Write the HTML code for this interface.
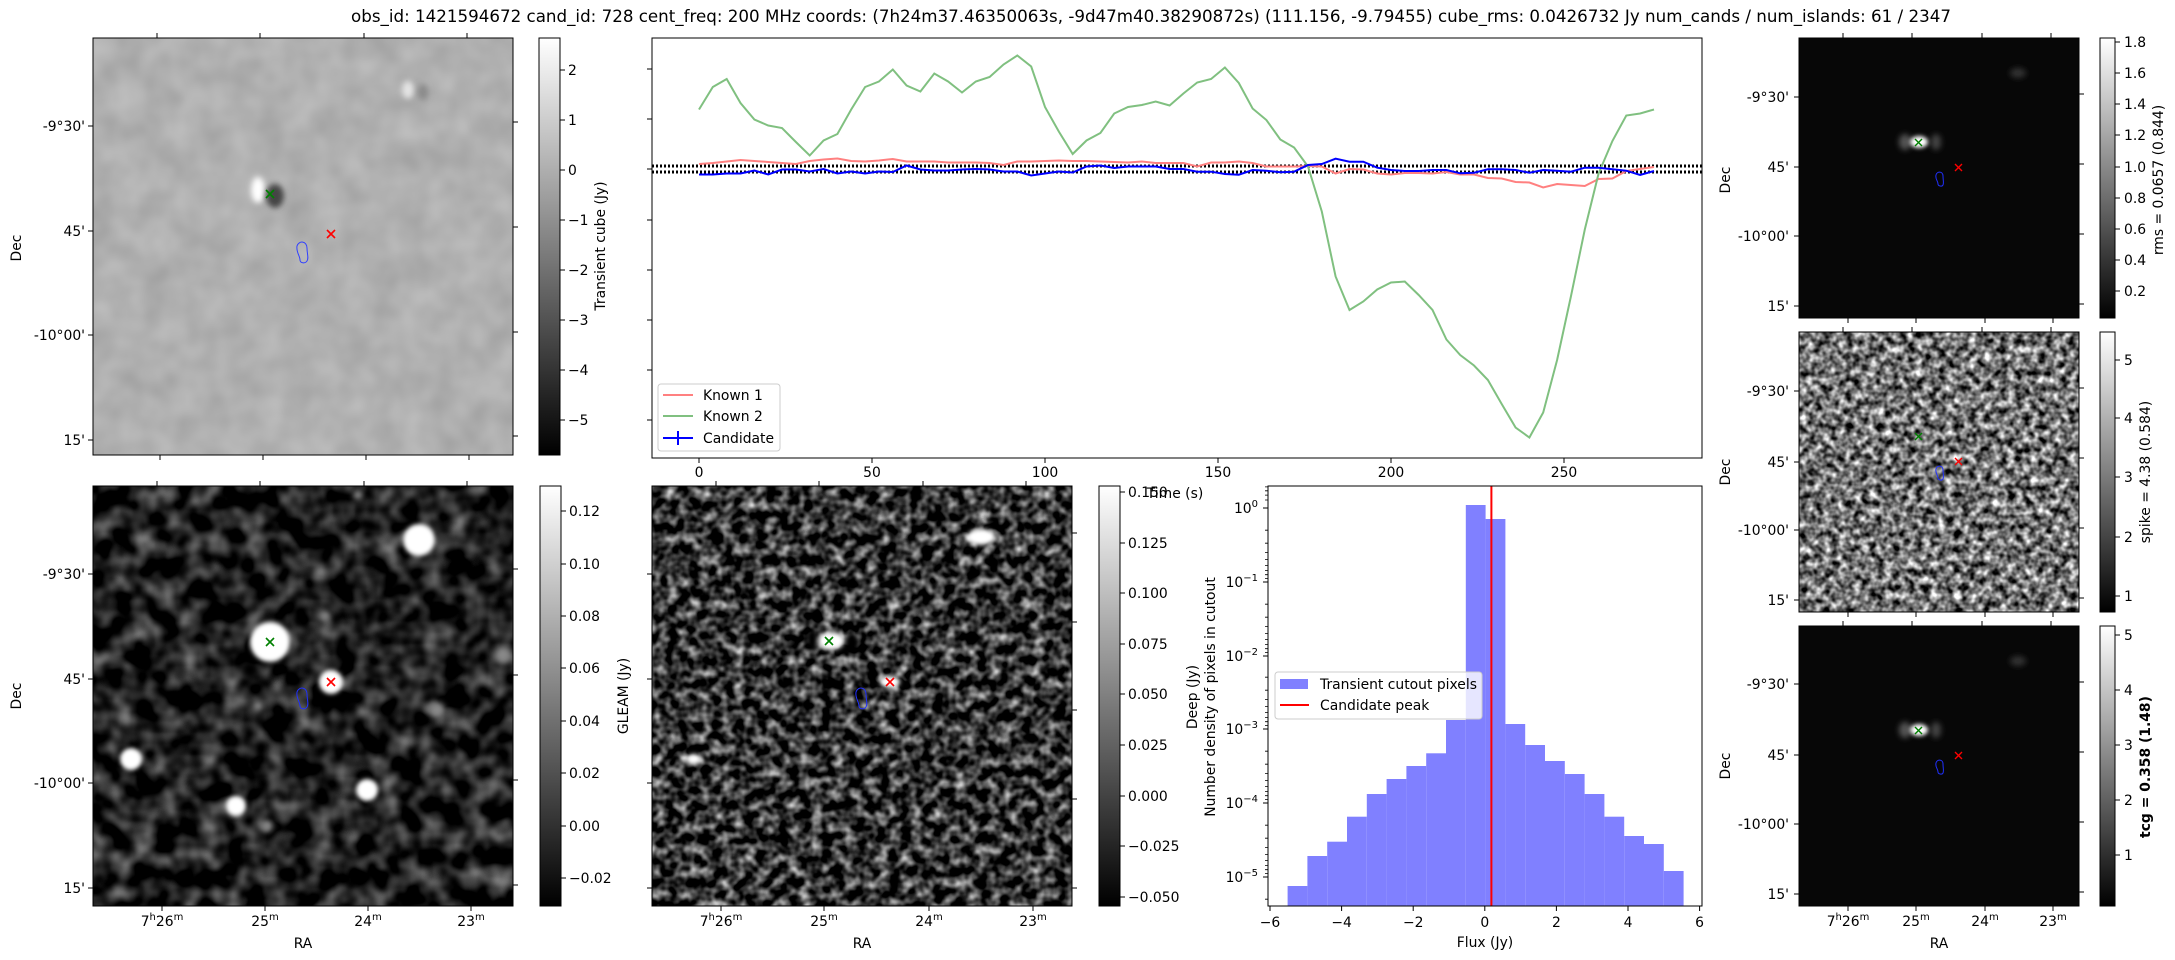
<!DOCTYPE html>
<html><head><meta charset="utf-8"><style>
html,body{margin:0;padding:0;background:#fff;}
svg{display:block;font-family:"DejaVu Sans","Liberation Sans",sans-serif;}
</style></head><body>
<svg width="2175" height="960" viewBox="0 0 2175 960" xmlns="http://www.w3.org/2000/svg">
<defs>
<linearGradient id="cb" x1="0" y1="1" x2="0" y2="0"><stop offset="0" stop-color="#000"/><stop offset="1" stop-color="#fff"/></linearGradient>
<filter id="fTL" x="0" y="0" width="1" height="1" color-interpolation-filters="sRGB"><feTurbulence type="fractalNoise" baseFrequency="0.035" numOctaves="2" seed="4"/><feColorMatrix type="matrix" values="0.14 0 0 0 0.62  0.14 0 0 0 0.62  0.14 0 0 0 0.62  0 0 0 0 1"/></filter>
<filter id="fGL" x="0" y="0" width="1" height="1" color-interpolation-filters="sRGB"><feTurbulence type="fractalNoise" baseFrequency="0.045" numOctaves="2" seed="7"/><feColorMatrix type="matrix" values="1.0 0 0 0 -0.38  1.0 0 0 0 -0.38  1.0 0 0 0 -0.38  0 0 0 0 1"/></filter>
<filter id="fDP" x="0" y="0" width="1" height="1" color-interpolation-filters="sRGB"><feTurbulence type="fractalNoise" baseFrequency="0.09" numOctaves="2" seed="11"/><feColorMatrix type="matrix" values="1.6 0 0 0 -0.6  1.6 0 0 0 -0.6  1.6 0 0 0 -0.6  0 0 0 0 1"/></filter>
<filter id="fSP" x="0" y="0" width="1" height="1" color-interpolation-filters="sRGB"><feTurbulence type="fractalNoise" baseFrequency="0.13" numOctaves="2" seed="21"/><feColorMatrix type="matrix" values="1.8 0 0 0 -0.45  1.8 0 0 0 -0.45  1.8 0 0 0 -0.45  0 0 0 0 1"/></filter>
<filter id="b2" x="-100%" y="-100%" width="300%" height="300%"><feGaussianBlur stdDeviation="2"/></filter>
<filter id="b3" x="-100%" y="-100%" width="300%" height="300%"><feGaussianBlur stdDeviation="3"/></filter>
<clipPath id="cTL"><rect x="93" y="38" width="420" height="417"/></clipPath>
<clipPath id="cBL"><rect x="93" y="486" width="420" height="420"/></clipPath>
<clipPath id="cBM"><rect x="652" y="486" width="420" height="420"/></clipPath>
<clipPath id="cR1"><rect x="1799" y="38" width="280" height="280"/></clipPath>
<clipPath id="cR3"><rect x="1799" y="626" width="280" height="280"/></clipPath>
</defs>

<text x="1151" y="22" font-size="16.7" text-anchor="middle">obs_id: 1421594672 cand_id: 728 cent_freq: 200 MHz coords: (7h24m37.46350063s, -9d47m40.38290872s) (111.156, -9.79455) cube_rms: 0.0426732 Jy num_cands / num_islands: 61 / 2347</text>

<g font-size="13.9" fill="#000">
<g clip-path="url(#cTL)">
<rect x="93" y="38" width="420" height="417" filter="url(#fTL)"/>
<ellipse cx="258" cy="190" rx="7" ry="13" fill="#fff" filter="url(#b3)"/>
<ellipse cx="275" cy="196" rx="9" ry="12" fill="#444" filter="url(#b3)"/>
<ellipse cx="408" cy="90" rx="6" ry="9" fill="#e4e4e4" filter="url(#b3)"/>
<ellipse cx="423" cy="92" rx="5" ry="8" fill="#8a8a8a" filter="url(#b3)"/>
</g>
<rect x="93" y="38" width="420" height="417" fill="none" stroke="#000" stroke-width="1"/>
<g stroke="#000" stroke-width="1">
<path d="M157 38v-5M260 38v-5M364 38v-5M467 38v-5M160 455v5M263 455v5M366 455v5M469 455v5"/>
<path d="M93 126h-5M93 231h-5M93 335h-5M93 440h-5M513 122h5M513 227h5M513 332h5M513 436h5"/>
</g>
<g text-anchor="end"><text x="85" y="131">-9°30'</text><text x="85" y="236">45'</text><text x="85" y="340">-10°00'</text><text x="85" y="445">15'</text></g>
<text transform="translate(21,248) rotate(-90)" text-anchor="middle">Dec</text>
<g stroke-width="1.6" fill="none"><path d="M266 190l8 8M274 190l-8 8" stroke="#008000"/><path d="M327 230l8 8M335 230l-8 8" stroke="#f00"/></g>
<path d="M297 246c2-6 10-5 10 2c0 6 2 10 0 13c-2 3-7 2-7-1c0-4-4-8-3-14z" fill="none" stroke="#3040ff" stroke-width="1"/>

<rect x="539" y="38" width="21" height="417" fill="url(#cb)" stroke="#000"/>
<g stroke="#000"><path d="M560 70h5M560 120h5M560 170h5M560 220h5M560 270h5M560 320h5M560 370h5M560 420h5"/></g>
<g><text x="568" y="75">2</text><text x="568" y="125">1</text><text x="568" y="175">0</text><text x="568" y="225">−1</text><text x="568" y="275">−2</text><text x="568" y="325">−3</text><text x="568" y="375">−4</text><text x="568" y="425">−5</text></g>
<text transform="translate(605,246) rotate(-90)" text-anchor="middle">Transient cube (Jy)</text>

<rect x="652" y="38" width="1050" height="420" fill="none" stroke="#000"/>
<g stroke="#000"><path d="M652 69h-5M652 119h-5M652 169h-5M652 220h-5M652 270h-5M652 320h-5M652 370h-5M652 420h-5"/>
<path d="M699 458v5M872 458v5M1045 458v5M1218 458v5M1391 458v5M1564 458v5"/></g>
<g text-anchor="middle"><text x="699" y="477">0</text><text x="872" y="477">50</text><text x="1045" y="477">100</text><text x="1218" y="477">150</text><text x="1391" y="477">200</text><text x="1564" y="477">250</text></g>
<text x="1175" y="498" text-anchor="middle">Time (s)</text>
<path d="M652 166H1702M652 172H1702" stroke="#000" stroke-width="3" stroke-dasharray="2 2"/>
<polyline fill="none" stroke="#ff8080" stroke-width="2" points="699,164 712.8,163 726.7,161.5 740.5,160 754.4,161 768.2,162 782,163 795.9,164 809.7,161 823.6,159.5 837.4,158.5 851.2,161 865.1,161.5 878.9,160.5 892.8,159 906.6,161.5 920.4,161.5 934.3,161.5 948.1,162.5 962,162.5 975.8,162.5 989.6,163 1003.5,165 1017.3,161.5 1031.2,161.5 1045,161 1058.8,160.5 1072.7,161 1086.5,161 1100.4,161.5 1114.2,162 1128,162.5 1141.9,161.5 1155.7,163 1169.6,163 1183.4,163 1197.2,166.5 1211.1,162.5 1224.9,162.5 1238.8,161.5 1252.6,163 1266.4,166.5 1280.3,166.5 1294.1,166.5 1308,166 1321.8,166.5 1335.6,173.5 1349.5,169 1363.3,169.5 1377.2,173.5 1391,174.5 1404.8,173 1418.7,173 1432.5,173.5 1446.4,172 1460.2,174.5 1474,174.5 1487.9,178 1501.7,178.5 1515.6,182 1529.4,182.5 1543.2,187.5 1557.1,184 1570.9,185 1584.8,186 1598.6,179 1612.4,178.5 1626.3,171 1640.1,169 1654,167"/>
<polyline fill="none" stroke="#80c080" stroke-width="2" points="699,109.5 712.8,87 726.7,79 740.5,103 754.4,119.5 768.2,125.5 782,128 795.9,142 809.7,155.5 823.6,140.5 837.4,134 851.2,109.5 865.1,87 878.9,81.5 892.8,69.5 906.6,85.5 920.4,91.5 934.3,73.5 948.1,81.5 962,92.5 975.8,81.5 989.6,77 1003.5,64.5 1017.3,55.5 1031.2,66.5 1045,107 1058.8,131.5 1072.7,154 1086.5,140.5 1100.4,133 1114.2,113.5 1128,107 1141.9,105 1155.7,101.5 1169.6,105.5 1183.4,93.5 1197.2,82.5 1211.1,79 1224.9,67.5 1238.8,83 1252.6,108.5 1266.4,120 1280.3,139.5 1294.1,147.5 1308,166.5 1321.8,211.5 1335.6,276.5 1349.5,310 1363.3,301.5 1377.2,289.5 1391,282.5 1404.8,281.5 1418.7,295 1432.5,310 1446.4,339.5 1460.2,355 1474,365.5 1487.9,380 1501.7,404 1515.6,427.5 1529.4,437.5 1543.2,412.5 1557.1,360 1570.9,296.5 1584.8,229.5 1598.6,173.5 1612.4,141 1626.3,115.5 1640.1,113.5 1654,109.5"/>
<polyline fill="none" stroke="#0000ff" stroke-width="2" points="699,174.5 712.8,174.5 726.7,173.5 740.5,173.5 754.4,170.5 768.2,174.5 782,169.5 795.9,169.5 809.7,171.5 823.6,169 837.4,173.5 851.2,171.5 865.1,173.5 878.9,171.5 892.8,172 906.6,165.5 920.4,169.5 934.3,170.5 948.1,170.5 962,169.5 975.8,169 989.6,169.5 1003.5,171.5 1017.3,171.5 1031.2,175.5 1045,173.5 1058.8,171.5 1072.7,172.5 1086.5,166.5 1100.4,165.5 1114.2,168 1128,166.5 1141.9,166.5 1155.7,166.5 1169.6,169 1183.4,169 1197.2,171.7 1211.1,171.7 1224.9,174 1238.8,174.7 1252.6,170 1266.4,170.7 1280.3,172.3 1294.1,171.7 1308,165 1321.8,164 1335.6,158.7 1349.5,161.7 1363.3,161.7 1377.2,167.7 1391,170 1404.8,171 1418.7,171 1432.5,170 1446.4,170 1460.2,173.3 1474,172.7 1487.9,169.3 1501.7,169.3 1515.6,170 1529.4,172.7 1543.2,170 1557.1,170.7 1570.9,171.7 1584.8,167.7 1598.6,167.7 1612.4,169.3 1626.3,170.7 1640.1,175 1654,171"/>
<rect x="658" y="384" width="122" height="67" rx="3" fill="#fff" fill-opacity="0.8" stroke="#ccc"/>
<path d="M663 395h30" stroke="#ff8080" stroke-width="2"/><path d="M663 416h30" stroke="#80c080" stroke-width="2"/>
<path d="M663 438h30M678 431v14" stroke="#0000ff" stroke-width="2"/>
<text x="703" y="400">Known 1</text><text x="703" y="421">Known 2</text><text x="703" y="443">Candidate</text>

<g clip-path="url(#cBL)">
<rect x="93" y="486" width="420" height="420" filter="url(#fGL)"/>
<g fill="#fff" filter="url(#b2)">
<circle cx="270" cy="642" r="20"/><circle cx="331" cy="682" r="12"/><circle cx="419" cy="540" r="16"/><circle cx="131" cy="759" r="11"/><circle cx="236" cy="806" r="10"/><circle cx="367" cy="790" r="11"/>
</g>
<g fill="#000" filter="url(#b3)"><circle cx="250" cy="670" r="8"/><circle cx="300" cy="620" r="6"/></g>
<g fill="#888" filter="url(#b3)"><circle cx="503" cy="655" r="8"/><circle cx="437" cy="710" r="8"/><circle cx="325" cy="616" r="5"/><circle cx="258" cy="706" r="5"/><circle cx="358" cy="495" r="5"/><circle cx="267" cy="826" r="6"/></g>
</g>
<rect x="93" y="486" width="420" height="420" fill="none" stroke="#000"/>
<g stroke="#000"><path d="M157 486v-5M260 486v-5M364 486v-5M467 486v-5M162 906v5M265 906v5M368 906v5M471 906v5"/>
<path d="M93 574h-5M93 679h-5M93 783h-5M93 888h-5M513 569h5M513 675h5M513 780h5M513 885h5"/></g>
<g text-anchor="end"><text x="85" y="579">-9°30'</text><text x="85" y="684">45'</text><text x="85" y="788">-10°00'</text><text x="85" y="893">15'</text></g>
<text transform="translate(21,696) rotate(-90)" text-anchor="middle">Dec</text>
<g text-anchor="middle"><text x="162" y="926">7<tspan font-size="10" dy="-6">h</tspan><tspan dy="6">26</tspan><tspan font-size="10" dy="-6">m</tspan></text><text x="265" y="926">25<tspan font-size="10" dy="-6">m</tspan></text><text x="368" y="926">24<tspan font-size="10" dy="-6">m</tspan></text><text x="471" y="926">23<tspan font-size="10" dy="-6">m</tspan></text></g>
<text x="303" y="948" text-anchor="middle">RA</text>
<g stroke-width="1.6" fill="none"><path d="M266 638l8 8M274 638l-8 8" stroke="#008000"/><path d="M327 678l8 8M335 678l-8 8" stroke="#f00"/></g>
<path d="M297 692c2-6 10-5 10 2c0 6 2 10 0 13c-2 3-7 2-7-1c0-4-4-8-3-14z" fill="none" stroke="#2030ff" stroke-width="1"/>
<rect x="540" y="486" width="21" height="420" fill="url(#cb)" stroke="#000"/>
<g stroke="#000"><path d="M561 511h5M561 564h5M561 616h5M561 668h5M561 721h5M561 773h5M561 826h5M561 878h5"/></g>
<g><text x="569" y="516">0.12</text><text x="569" y="569">0.10</text><text x="569" y="621">0.08</text><text x="569" y="673">0.06</text><text x="569" y="726">0.04</text><text x="569" y="778">0.02</text><text x="569" y="831">0.00</text><text x="569" y="883">−0.02</text></g>
<text transform="translate(628,696) rotate(-90)" text-anchor="middle">GLEAM (Jy)</text>

<g clip-path="url(#cBM)">
<rect x="652" y="486" width="420" height="420" filter="url(#fDP)"/>
<g fill="#fff" filter="url(#b2)"><ellipse cx="981" cy="537" rx="14" ry="8"/><ellipse cx="831" cy="641" rx="13" ry="9"/><ellipse cx="890" cy="682" rx="10" ry="6"/><ellipse cx="694" cy="759" rx="7" ry="5"/></g>
<g fill="#000" filter="url(#b2)"><ellipse cx="812" cy="640" rx="5" ry="10"/><ellipse cx="852" cy="642" rx="6" ry="9"/></g>
</g>
<rect x="652" y="486" width="420" height="420" fill="none" stroke="#000"/>
<g stroke="#000"><path d="M716 486v-5M819 486v-5M923 486v-5M1026 486v-5M721 906v5M824 906v5M929 906v5M1033 906v5"/>
<path d="M652 574h-5M652 679h-5M652 783h-5M652 888h-5M1072 533h5M1072 622h5M1072 710h5M1072 799h5M1072 888h5"/></g>
<g text-anchor="middle"><text x="721" y="926">7<tspan font-size="10" dy="-6">h</tspan><tspan dy="6">26</tspan><tspan font-size="10" dy="-6">m</tspan></text><text x="824" y="926">25<tspan font-size="10" dy="-6">m</tspan></text><text x="929" y="926">24<tspan font-size="10" dy="-6">m</tspan></text><text x="1033" y="926">23<tspan font-size="10" dy="-6">m</tspan></text></g>
<text x="862" y="948" text-anchor="middle">RA</text>
<g stroke-width="1.6" fill="none"><path d="M825 637l8 8M833 637l-8 8" stroke="#008000"/><path d="M886 678l8 8M894 678l-8 8" stroke="#f00"/></g>
<path d="M856 692c2-6 10-5 10 2c0 6 2 10 0 13c-2 3-7 2-7-1c0-4-4-8-3-14z" fill="none" stroke="#2030ff" stroke-width="1"/>
<rect x="1099" y="486" width="21" height="420" fill="url(#cb)" stroke="#000"/>
<g stroke="#000"><path d="M1120 492h5M1120 543h5M1120 593h5M1120 644h5M1120 694h5M1120 745h5M1120 796h5M1120 846h5M1120 897h5"/></g>
<g><text x="1128" y="497">0.150</text><text x="1128" y="548">0.125</text><text x="1128" y="598">0.100</text><text x="1128" y="649">0.075</text><text x="1128" y="699">0.050</text><text x="1128" y="750">0.025</text><text x="1128" y="801">0.000</text><text x="1128" y="851">−0.025</text><text x="1128" y="902">−0.050</text></g>
<text transform="translate(1197,697) rotate(-90)" text-anchor="middle">Deep (Jy)</text>

<g fill="#8080ff">
<rect x="1287.6" y="886" width="19.8" height="20"/><rect x="1307.4" y="856" width="19.8" height="50"/><rect x="1327.2" y="841.7" width="19.8" height="64.3"/><rect x="1347" y="816.7" width="19.8" height="89.3"/><rect x="1366.8" y="794" width="19.8" height="112"/><rect x="1386.6" y="779" width="19.8" height="127"/><rect x="1406.4" y="766" width="19.8" height="140"/><rect x="1426.2" y="753.3" width="19.8" height="152.7"/><rect x="1446" y="720" width="19.8" height="186"/><rect x="1465.8" y="505" width="19.8" height="401"/><rect x="1485.6" y="519" width="19.8" height="387"/><rect x="1505.4" y="724" width="19.8" height="182"/><rect x="1525.2" y="745" width="19.8" height="161"/><rect x="1545" y="761" width="19.8" height="145"/><rect x="1564.8" y="774" width="19.8" height="132"/><rect x="1584.6" y="794" width="19.8" height="112"/><rect x="1604.4" y="816.7" width="19.8" height="89.3"/><rect x="1624.2" y="836" width="19.8" height="70"/><rect x="1644" y="844" width="19.8" height="62"/><rect x="1663.8" y="871" width="19.8" height="35"/>
</g>
<path d="M1491.4 486V906" stroke="#f00" stroke-width="2"/>
<rect x="1268" y="486" width="434" height="420" fill="none" stroke="#000"/>
<g stroke="#000"><path d="M1270 906v5M1341.6 906v5M1413.2 906v5M1484.8 906v5M1556.4 906v5M1628 906v5M1699.6 906v5"/>
<path d="M1268 508h-5M1268 582h-5M1268 656h-5M1268 729h-5M1268 803h-5M1268 877h-5"/>
<path stroke-width="0.8" d="M1268 486.9h-3M1268 490.8h-3M1268 495.1h-3M1268 500.0h-3M1268 530.2h-3M1268 543.2h-3M1268 552.4h-3M1268 559.6h-3M1268 565.4h-3M1268 570.4h-3M1268 574.7h-3M1268 578.5h-3M1268 604.2h-3M1268 617.2h-3M1268 626.4h-3M1268 633.6h-3M1268 639.4h-3M1268 644.4h-3M1268 648.7h-3M1268 652.5h-3M1268 677.2h-3M1268 690.2h-3M1268 699.4h-3M1268 706.6h-3M1268 712.4h-3M1268 717.4h-3M1268 721.7h-3M1268 725.5h-3M1268 751.2h-3M1268 764.2h-3M1268 773.4h-3M1268 780.6h-3M1268 786.4h-3M1268 791.4h-3M1268 795.7h-3M1268 799.5h-3M1268 825.2h-3M1268 838.2h-3M1268 847.4h-3M1268 854.6h-3M1268 860.4h-3M1268 865.4h-3M1268 869.7h-3M1268 873.5h-3M1268 899.2h-3"/></g>
<g text-anchor="middle"><text x="1270" y="927">−6</text><text x="1341.6" y="927">−4</text><text x="1413.2" y="927">−2</text><text x="1484.8" y="927">0</text><text x="1556.4" y="927">2</text><text x="1628" y="927">4</text><text x="1699.6" y="927">6</text></g>
<text x="1485" y="947" text-anchor="middle">Flux (Jy)</text>
<g text-anchor="end"><text x="1258" y="513">10<tspan font-size="10" dy="-6">0</tspan></text><text x="1258" y="587">10<tspan font-size="10" dy="-6">−1</tspan></text><text x="1258" y="661">10<tspan font-size="10" dy="-6">−2</tspan></text><text x="1258" y="734">10<tspan font-size="10" dy="-6">−3</tspan></text><text x="1258" y="808">10<tspan font-size="10" dy="-6">−4</tspan></text><text x="1258" y="882">10<tspan font-size="10" dy="-6">−5</tspan></text></g>
<text transform="translate(1215,697) rotate(-90)" text-anchor="middle">Number density of pixels in cutout</text>
<rect x="1275" y="672" width="207" height="47" rx="3" fill="#fff" fill-opacity="0.8" stroke="#ccc"/>
<rect x="1280" y="679" width="28" height="10" fill="#8080ff"/>
<path d="M1280 705h29" stroke="#f00" stroke-width="2"/>
<text x="1320" y="689">Transient cutout pixels</text><text x="1320" y="710">Candidate peak</text>

<g clip-path="url(#cR1)">
<rect x="1799" y="38" width="280" height="280" fill="#070707"/>
<ellipse cx="1905" cy="142" rx="6" ry="8" fill="#555" filter="url(#b3)"/>
<ellipse cx="1936" cy="142" rx="5" ry="8" fill="#444" filter="url(#b3)"/>
<ellipse cx="1919" cy="142" rx="9" ry="6" fill="#fff" filter="url(#b2)"/>
<ellipse cx="2018" cy="73" rx="8" ry="5" fill="#333" filter="url(#b3)"/>
</g>
<rect x="1799" y="332" width="280" height="280" filter="url(#fSP)"/>
<g clip-path="url(#cR3)">
<rect x="1799" y="626" width="280" height="280" fill="#070707"/>
<ellipse cx="1905" cy="730" rx="6" ry="8" fill="#555" filter="url(#b3)"/>
<ellipse cx="1936" cy="730" rx="5" ry="8" fill="#444" filter="url(#b3)"/>
<ellipse cx="1919" cy="730" rx="9" ry="6" fill="#fff" filter="url(#b2)"/>
<ellipse cx="2018" cy="661" rx="8" ry="5" fill="#333" filter="url(#b3)"/>
</g>
<g fill="none" stroke="#000">
<rect x="1799" y="38" width="280" height="280"/><rect x="1799" y="332" width="280" height="280"/><rect x="1799" y="626" width="280" height="280"/>
<path d="M1843 38v-5M1912 38v-5M1982 38v-5M2051 38v-5M1848 318v5M1916 318v5M1985 318v5M2053 318v5M1843 332v-5M1912 332v-5M1982 332v-5M2051 332v-5M1848 612v5M1916 612v5M1985 612v5M2053 612v5M1843 626v-5M1912 626v-5M1982 626v-5M2051 626v-5M1848 906v5M1916 906v5M1985 906v5M2053 906v5"/>
<path d="M1799 97h-5M1799 167h-5M1799 236h-5M1799 306h-5M2079 94h5M2079 164h5M2079 234h5M2079 304h5M1799 391h-5M1799 462h-5M1799 530h-5M1799 600h-5M2079 388h5M2079 458h5M2079 528h5M2079 598h5M1799 684h-5M1799 755h-5M1799 824h-5M1799 894h-5M2079 682h5M2079 752h5M2079 822h5M2079 892h5"/>
</g>
<g text-anchor="end"><text x="1789" y="102">-9°30'</text><text x="1789" y="172">45'</text><text x="1789" y="241">-10°00'</text><text x="1789" y="311">15'</text>
<text x="1789" y="396">-9°30'</text><text x="1789" y="467">45'</text><text x="1789" y="535">-10°00'</text><text x="1789" y="605">15'</text>
<text x="1789" y="689">-9°30'</text><text x="1789" y="760">45'</text><text x="1789" y="829">-10°00'</text><text x="1789" y="899">15'</text></g>
<text transform="translate(1730,180) rotate(-90)" text-anchor="middle">Dec</text>
<text transform="translate(1730,472) rotate(-90)" text-anchor="middle">Dec</text>
<text transform="translate(1730,766) rotate(-90)" text-anchor="middle">Dec</text>
<g text-anchor="middle"><text x="1848" y="926">7<tspan font-size="10" dy="-6">h</tspan><tspan dy="6">26</tspan><tspan font-size="10" dy="-6">m</tspan></text><text x="1916" y="926">25<tspan font-size="10" dy="-6">m</tspan></text><text x="1985" y="926">24<tspan font-size="10" dy="-6">m</tspan></text><text x="2053" y="926">23<tspan font-size="10" dy="-6">m</tspan></text></g>
<text x="1939" y="948" text-anchor="middle">RA</text>
<g stroke-width="1.4" fill="none">
<path d="M1915 139l7 7M1922 139l-7 7M1915 433l7 7M1922 433l-7 7M1915 727l7 7M1922 727l-7 7" stroke="#008000"/>
<path d="M1955 164l7 7M1962 164l-7 7M1955 458l7 7M1962 458l-7 7M1955 752l7 7M1962 752l-7 7" stroke="#f00"/>
<path d="M1936 175c1-4 7-4 7 1c0 4 1 7 0 9c-1 2-5 1-5-1c0-3-3-5-2-9z M1936 469c1-4 7-4 7 1c0 4 1 7 0 9c-1 2-5 1-5-1c0-3-3-5-2-9z M1936 763c1-4 7-4 7 1c0 4 1 7 0 9c-1 2-5 1-5-1c0-3-3-5-2-9z" stroke="#2030ff" stroke-width="1"/>
</g>
<rect x="2100" y="38" width="15" height="280" fill="url(#cb)" stroke="#000"/>
<rect x="2100" y="332" width="15" height="280" fill="url(#cb)" stroke="#000"/>
<rect x="2100" y="626" width="15" height="280" fill="url(#cb)" stroke="#000"/>
<g stroke="#000"><path d="M2115 42h5M2115 73h5M2115 104h5M2115 135h5M2115 167h5M2115 198h5M2115 229h5M2115 260h5M2115 291h5M2115 360h5M2115 418h5M2115 477h5M2115 537h5M2115 596h5M2115 635h5M2115 690h5M2115 745h5M2115 800h5M2115 855h5"/></g>
<g><text x="2124" y="47">1.8</text><text x="2124" y="78">1.6</text><text x="2124" y="109">1.4</text><text x="2124" y="140">1.2</text><text x="2124" y="172">1.0</text><text x="2124" y="203">0.8</text><text x="2124" y="234">0.6</text><text x="2124" y="265">0.4</text><text x="2124" y="296">0.2</text>
<text x="2124" y="365">5</text><text x="2124" y="423">4</text><text x="2124" y="482">3</text><text x="2124" y="542">2</text><text x="2124" y="601">1</text>
<text x="2124" y="640">5</text><text x="2124" y="695">4</text><text x="2124" y="750">3</text><text x="2124" y="805">2</text><text x="2124" y="860">1</text></g>
<text transform="translate(2163,180) rotate(-90)" text-anchor="middle">rms = 0.0657 (0.844)</text>
<text transform="translate(2150,472) rotate(-90)" text-anchor="middle">spike = 4.38 (0.584)</text>
<text transform="translate(2150,767) rotate(-90)" text-anchor="middle" font-weight="bold">tcg = 0.358 (1.48)</text>
</g>
</svg>
</body></html>
